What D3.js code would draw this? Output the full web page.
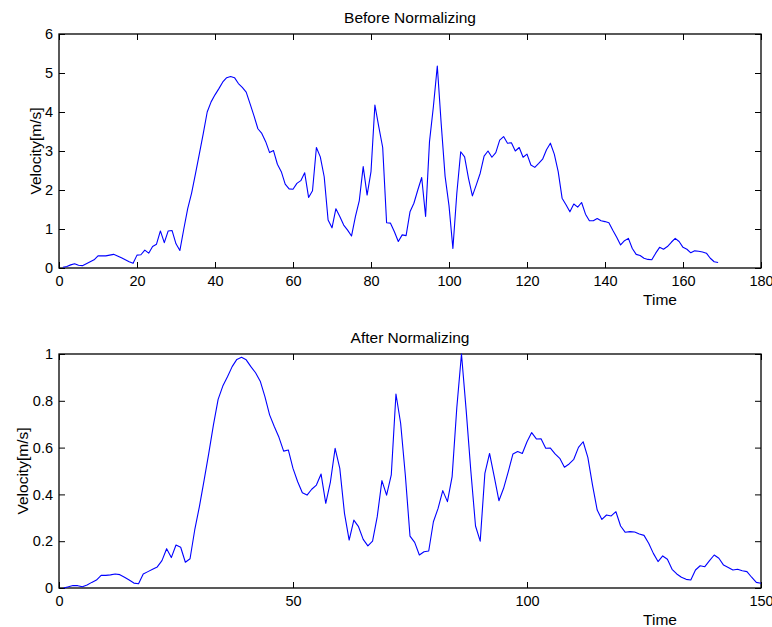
<!DOCTYPE html>
<html><head><meta charset="utf-8">
<script src="https://cdn.jsdelivr.net/npm/d3@7"></script>
<style>
body{margin:0;background:#fff}
text{font-family:"Liberation Sans",Arial,Helvetica,sans-serif;fill:#000}
</style>
</head><body>
<svg id="chart" width="772" height="627"></svg>
<script>
// Velocity before normalizing, samples at time 1..169
const beforeValues = [
 0.02,0.04,0.08,0.11,0.07,0.06,0.11,0.16,0.21,0.31,
 0.31,0.31,0.33,0.35,0.31,0.26,0.21,0.16,0.12,0.33,
 0.34,0.46,0.38,0.55,0.61,0.95,0.65,0.95,0.96,0.62,
 0.45,1.00,1.52,1.92,2.42,2.93,3.45,4.00,4.26,4.44,
 4.60,4.77,4.88,4.91,4.88,4.73,4.63,4.51,4.21,3.90,
 3.57,3.45,3.24,2.96,3.01,2.66,2.47,2.15,2.03,2.02,
 2.17,2.24,2.44,1.81,1.98,3.09,2.85,2.34,1.23,1.03,
 1.52,1.32,1.10,0.97,0.82,1.32,1.73,2.60,1.87,2.47,
 4.18,3.62,3.09,1.16,1.15,0.93,0.68,0.85,0.83,1.44,
 1.66,2.00,2.32,1.32,3.24,4.14,5.18,3.70,2.35,1.60,
 0.50,1.91,2.98,2.85,2.30,1.85,2.13,2.43,2.87,3.00,
 2.84,2.96,3.28,3.37,3.20,3.21,3.00,3.09,2.84,2.92,
 2.64,2.58,2.68,2.79,3.03,3.20,2.92,2.47,1.79,1.62,
 1.44,1.64,1.56,1.68,1.38,1.21,1.21,1.27,1.21,1.19,
 1.16,0.97,0.79,0.59,0.70,0.76,0.50,0.35,0.32,0.25,
 0.22,0.21,0.38,0.53,0.48,0.55,0.66,0.76,0.68,0.53,
 0.48,0.39,0.44,0.43,0.41,0.38,0.25,0.16,0.14
];
// Velocity after normalizing, samples at time 1..150
const afterValues = [
 0.000,0.005,0.011,0.010,0.005,0.013,0.024,0.034,0.054,0.054,
 0.056,0.060,0.057,0.046,0.034,0.021,0.018,0.060,0.070,0.080,
 0.090,0.117,0.168,0.130,0.184,0.174,0.110,0.125,0.248,0.348,
 0.460,0.575,0.697,0.806,0.863,0.903,0.946,0.977,0.986,0.975,
 0.946,0.920,0.884,0.818,0.740,0.690,0.644,0.585,0.590,0.511,
 0.454,0.407,0.397,0.422,0.440,0.487,0.362,0.454,0.597,0.511,
 0.319,0.205,0.290,0.262,0.208,0.180,0.200,0.305,0.459,0.397,
 0.483,0.829,0.704,0.483,0.222,0.195,0.141,0.155,0.158,0.283,
 0.340,0.416,0.369,0.476,0.770,1.000,0.760,0.500,0.265,0.200,
 0.490,0.575,0.476,0.373,0.426,0.497,0.573,0.583,0.575,0.625,
 0.664,0.637,0.638,0.597,0.598,0.573,0.554,0.516,0.530,0.550,
 0.601,0.625,0.558,0.440,0.333,0.293,0.312,0.308,0.326,0.265,
 0.238,0.241,0.239,0.231,0.225,0.191,0.148,0.113,0.137,0.123,
 0.080,0.060,0.046,0.037,0.034,0.077,0.095,0.091,0.117,0.141,
 0.127,0.098,0.088,0.077,0.080,0.074,0.070,0.046,0.024,0.020
];
const beforeXTicks = [0,20,40,60,80,100,120,140,160,180];
const beforeYTicks = [0,1,2,3,4,5,6];
const afterXTicks = [0,50,100,150];
const afterYTicks = [0,0.2,0.4,0.6,0.8,1];
const titles = ["Before Normalizing","After Normalizing"];
const xLabel = "Time";
const yLabel = "Velocity[m/s]";

const svg = d3.select("#chart");
const W = 702, H = 234, L = 59;
const fmt = d => String(+d.toFixed(3));

function panel(top, values, xMax, yMax, xTicks, yTicks, title, yLabX) {
  const g = svg.append("g").attr("transform", `translate(${L},${top})`);
  const x = d3.scaleLinear().domain([0, xMax]).range([0, W]);
  const y = d3.scaleLinear().domain([0, yMax]).range([H, 0]);

  const ax = (sel) => { sel.select(".domain").remove();
    sel.selectAll("line").attr("stroke","#000").attr("stroke-width",1);
    sel.selectAll("text").style("font-size","14.5px").attr("fill","#000"); };

  g.append("g").attr("transform",`translate(0,${H})`)
    .call(d3.axisBottom(x).tickValues(xTicks).tickSize(-6).tickPadding(8).tickFormat(fmt)).call(ax);
  g.append("g")
    .call(d3.axisTop(x).tickValues(xTicks).tickSize(-6).tickFormat("")).call(ax);
  g.append("g")
    .call(d3.axisLeft(y).tickValues(yTicks).tickSize(-6).tickPadding(6).tickFormat(fmt)).call(ax);
  g.append("g").attr("transform",`translate(${W},0)`)
    .call(d3.axisRight(y).tickValues(yTicks).tickSize(-6).tickFormat("")).call(ax);

  g.append("rect").attr("x",0).attr("y",0).attr("width",W).attr("height",H)
    .attr("fill","none").attr("stroke","#000").attr("stroke-width",1.3);

  const line = d3.line().x((d,i)=>x(i+1)).y(d=>y(d));
  g.append("path").datum(values).attr("d",line)
    .attr("fill","none").attr("stroke","#0000ff").attr("stroke-width",1.1)
    .attr("stroke-linejoin","round");

  svg.append("text").attr("x",410).attr("y",top-11).attr("text-anchor","middle")
    .style("font-size","15.5px").text(title);
  svg.append("text").attr("x",660).attr("y",top+H+37).attr("text-anchor","middle")
    .style("font-size","15.5px").text(xLabel);
  svg.append("text").attr("transform",`translate(${yLabX},${top+H/2}) rotate(-90)`)
    .attr("text-anchor","middle").style("font-size","15.5px").text(yLabel);
}

panel(34, beforeValues, 180, 6, beforeXTicks, beforeYTicks, titles[0], 41);
panel(354, afterValues, 150, 1, afterXTicks, afterYTicks, titles[1], 28);
</script>
</body></html>
